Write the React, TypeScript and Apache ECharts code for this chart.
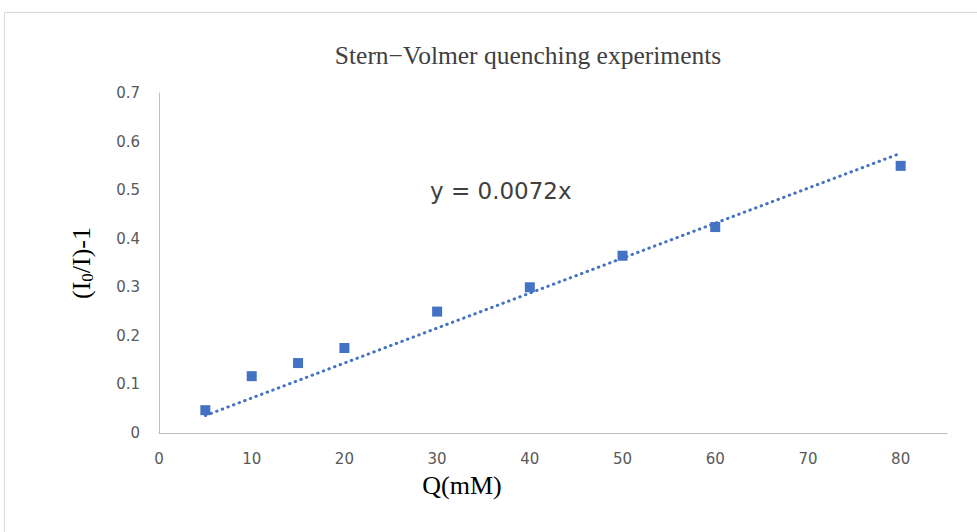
import React, { useEffect, useRef } from "react";
import * as echarts from "echarts";

const concentrations = [5, 10, 15, 20, 30, 40, 50, 60, 80];
const ratioValues = [0.047, 0.117, 0.144, 0.175, 0.25, 0.3, 0.365, 0.424, 0.55];
const slope = 0.0072;
const trendRange = [5, 80];
const titleText = "Stern\u2212Volmer quenching experiments";
const equationText = "y = 0.0072x";

export default function App() {
  const ref = useRef<HTMLDivElement>(null);
  useEffect(() => {
    if (!ref.current) return;
    const chart = echarts.init(ref.current, null, { renderer: "svg" });
    const blue = "#4472C4";
    chart.setOption({
      animation: false,
      backgroundColor: "#fff",
      title: {
        text: titleText,
        left: 523,
        textAlign: "center",
        top: 37,
        textStyle: {
          fontFamily: "Liberation Serif",
          fontSize: 25.5,
          fontWeight: "normal",
          color: "#404040",
        },
      },
      graphic: [
        {
          type: "rect",
          shape: { x: 4.5, y: 12.5, width: 1000, height: 600 },
          style: { fill: "none", stroke: "#d9d9d9", lineWidth: 1 },
          z: -10,
        },
        {
          type: "text",
          x: 430,
          y: 191,
          style: {
            text: equationText,
            fontFamily: "DejaVu Sans",
            fontSize: 23,
            fill: "#404040",
            verticalAlign: "middle",
          },
        },
      ],
      grid: { left: 159, top: 93, right: 30, bottom: 99, containLabel: false },
      xAxis: {
        type: "value",
        min: 0,
        max: 85,
        interval: 10,
        name: "Q(mM)",
        nameLocation: "middle",
        nameGap: 39,
        nameTextStyle: {
          fontFamily: "Liberation Serif",
          fontSize: 26,
          color: "#000",
          padding: [0, 182, 0, 0],
        },
        axisLine: { show: true, lineStyle: { color: "#bfbfbf", width: 1 } },
        axisTick: { show: false },
        splitLine: { show: false },
        axisLabel: {
          showMaxLabel: false,
          margin: 18,
          fontFamily: "DejaVu Sans",
          fontSize: 15,
          color: "#595959",
        },
      },
      yAxis: {
        type: "value",
        min: 0,
        max: 0.7,
        interval: 0.1,
        name: "{n|(I}{s|0}{n|/I)-1}",
        nameLocation: "middle",
        nameRotate: 90,
        nameGap: 63,
        nameTextStyle: {
          fontFamily: "Liberation Serif",
          color: "#000",
          rich: {
            n: { fontFamily: "Liberation Serif", fontSize: 26, color: "#000" },
            s: {
              fontFamily: "Liberation Serif",
              fontSize: 17,
              color: "#000",
              verticalAlign: "bottom",
              padding: [12, 0, 0, 0],
            },
          },
        },
        axisLine: { show: true, lineStyle: { color: "#bfbfbf", width: 1 } },
        axisTick: { show: false },
        splitLine: { show: false },
        axisLabel: {
          margin: 19,
          fontFamily: "DejaVu Sans",
          fontSize: 15,
          color: "#595959",
          formatter: (v: number) => (v === 0 ? "0" : v.toFixed(1)),
        },
      },
      series: [
        {
          type: "scatter",
          data: concentrations.map((x, i) => [x, ratioValues[i]]),
          symbol: "rect",
          symbolSize: 10,
          itemStyle: { color: blue, opacity: 1 },
          z: 2,
        },
        {
          type: "line",
          data: trendRange.map((x) => [x, slope * x]),
          symbol: "none",
          lineStyle: { color: blue, width: 3, type: [0.5, 5.5], cap: "round" },
          z: 3,
        },
      ],
    });
    return () => chart.dispose();
  }, []);
  return (
    <div
      ref={ref}
      style={{ position: "absolute", left: 0, top: 0, width: 977, height: 532 }}
    />
  );
}
